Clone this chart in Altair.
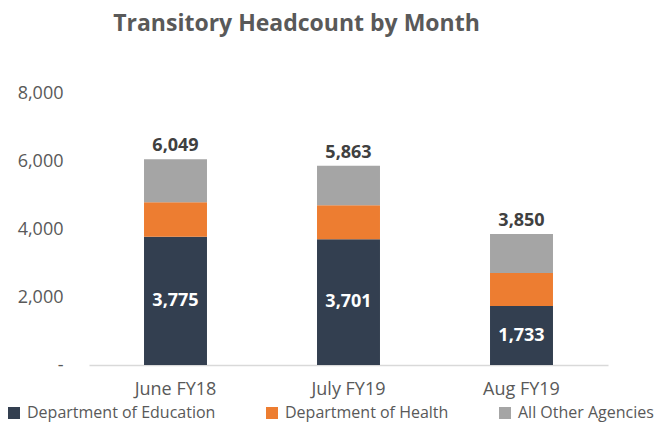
import altair as alt
import pandas as pd

months = ["June FY18", "July FY19", "Aug FY19"]
series = ["Department of Education", "Department of Health", "All Other Agencies"]
education = [3775, 3701, 1733]
health = [1010, 1000, 975]
others = [1264, 1162, 1142]
totals = [6049, 5863, 3850]
colors = ["#333F50", "#ED7D31", "#A5A5A5"]

rows = []
for i, m in enumerate(months):
    for j, (s, vals) in enumerate(zip(series, [education, health, others])):
        rows.append({"month": m, "series": s, "value": vals[i], "order": j})
df = pd.DataFrame(rows)
edu_df = pd.DataFrame({"month": months, "value": education})
tot_df = pd.DataFrame({"month": months, "total": totals})

FONT = "Open Sans"
TEXT = "#595959"

x = alt.X(
    "month:N", sort=months, title=None,
    scale=alt.Scale(paddingInner=0.636, paddingOuter=0.318),
    axis=alt.Axis(labelAngle=0, ticks=False, domainColor="#D9D9D9", domainWidth=1.5,
                  labelColor=TEXT, labelFontSize=18, labelFont=FONT, labelPadding=15),
)
yscale = alt.Scale(domain=[0, 8000], nice=False)

bars = alt.Chart(df).mark_bar().encode(
    x=x,
    y=alt.Y("value:Q", stack="zero", scale=yscale, title=None,
            axis=alt.Axis(values=[0, 2000, 4000, 6000, 8000], domain=False, ticks=False, grid=False,
                          labelExpr="datum.value == 0 ? '-' : format(datum.value, ',')",
                          labelColor=TEXT, labelFontSize=18, labelFont=FONT, labelPadding=26)),
    color=alt.Color("series:N", sort=series,
                    scale=alt.Scale(domain=series, range=colors),
                    legend=alt.Legend(title=None, orient="none", direction="horizontal",
                                      legendX=-83, legendY=312, symbolType="square", symbolSize=144,
                                      labelFontSize=16, labelFont=FONT, labelColor=TEXT, labelLimit=0,
                                      columnPadding=48, symbolOffset=0, labelOffset=5, padding=0,
                                      symbolStrokeWidth=0)),
    order=alt.Order("order:Q", sort="ascending"),
)

edu_text = alt.Chart(edu_df).transform_calculate(mid="datum.value / 2").mark_text(
    color="white", fontWeight="bold", fontSize=18, font=FONT
).encode(
    x=alt.X("month:N", sort=months),
    y=alt.Y("mid:Q", scale=yscale),
    text=alt.Text("value:Q", format=","),
)

tot_text = alt.Chart(tot_df).mark_text(
    color="#404040", fontWeight="bold", fontSize=18, font=FONT, baseline="alphabetic", dy=-8
).encode(
    x=alt.X("month:N", sort=months),
    y=alt.Y("total:Q", scale=yscale),
    text=alt.Text("total:Q", format=","),
)

chart = alt.layer(bars, edu_text, tot_text).properties(
    width=519, height=272,
    autosize=alt.AutoSizeParams(type="none"),
    padding={"left": 81, "top": 85, "right": 56, "bottom": 57},
    title=alt.TitleParams("Transitory Headcount by Month", anchor="middle", dx=-52, offset=48,
                          fontSize=23, fontWeight="bold", color=TEXT, font=FONT, frame="group"),
).configure_view(stroke=None)

chart.save("out.html", embed_options={"renderer": "svg", "actions": False})
